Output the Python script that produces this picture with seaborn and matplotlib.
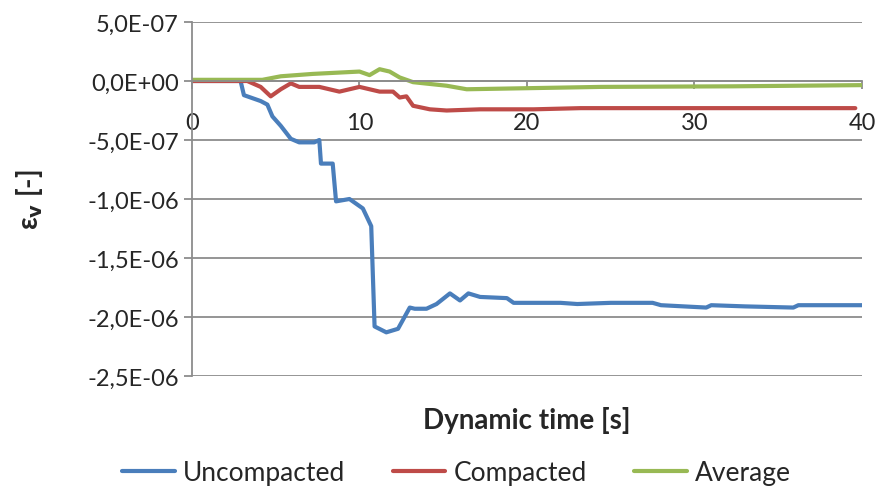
import numpy as np
import pandas as pd
import matplotlib
matplotlib.use("Agg")
import matplotlib.pyplot as plt
import matplotlib.ticker as mticker
import seaborn as sns

# Datos (tiempo en s, deformacion en 1e-7)
t_unc = [0, 2.9, 3.1, 4.1, 4.5, 4.8, 5.3, 5.9, 6.4, 7.3, 7.6, 7.7, 8.4, 8.6, 9.4,
         10.2, 10.7, 10.9, 11.6, 12.3, 13.0, 13.3, 14.0, 14.6, 15.4, 16.0, 16.5,
         17.2, 18.8, 19.2, 22, 23, 25, 27.5, 28, 30.7, 31, 33, 35.9, 36.2, 40]
v_unc = [0, 0, -1.2, -1.7, -2.0, -3.0, -3.8, -4.9, -5.2, -5.2, -5.0, -7.0, -7.0,
         -10.2, -10.0, -10.8, -12.3, -20.8, -21.3, -21.0, -19.2, -19.3, -19.3,
         -18.9, -18.0, -18.6, -18.0, -18.3, -18.4, -18.8, -18.8, -18.9, -18.8,
         -18.8, -19.0, -19.2, -19.0, -19.1, -19.2, -19.0, -19.0]

t_comp = [0, 3.3, 4.1, 4.7, 5.3, 5.9, 6.4, 7.6, 8.8, 10, 11.2, 12, 12.4, 12.8,
          13.2, 14.2, 15.2, 17.2, 20.4, 23.2, 39.6]
v_comp = [0, 0, -0.5, -1.3, -0.7, -0.2, -0.5, -0.5, -0.9, -0.5, -0.9, -0.9, -1.4,
          -1.3, -2.1, -2.4, -2.5, -2.4, -2.4, -2.3, -2.3]

t_avg = [0, 4.2, 5.3, 7.2, 10, 10.6, 11.2, 11.8, 12.4, 13.2, 15.2, 16.4, 20.4,
         24.4, 32.3, 40]
v_avg = [0.1, 0.1, 0.4, 0.6, 0.8, 0.5, 1.0, 0.8, 0.3, -0.1, -0.4, -0.7, -0.6,
         -0.5, -0.45, -0.35]

series = ["Uncompacted", "Compacted", "Average"]
colores = ["#4A7EBB", "#BE4B48", "#98B954"]
yticks = [-2.5e-6, -2.0e-6, -1.5e-6, -1.0e-6, -5.0e-7, 0.0, 5.0e-7]
xticks = [0, 10, 20, 30, 40]

df = pd.concat([
    pd.DataFrame({"t": t_unc, "e": np.array(v_unc) * 1e-7, "serie": series[0]}),
    pd.DataFrame({"t": t_comp, "e": np.array(v_comp) * 1e-7, "serie": series[1]}),
    pd.DataFrame({"t": t_avg, "e": np.array(v_avg) * 1e-7, "serie": series[2]}),
])

sns.set_style("white")
plt.rcParams["font.family"] = ["Lato", "DejaVu Sans"]

fig = plt.figure(figsize=(8.78, 5.02), dpi=100)
ax = fig.add_axes([192 / 878, 1 - 377 / 502, 670 / 878, 354 / 502])

sns.lineplot(data=df, x="t", y="e", hue="serie", hue_order=series,
             palette=colores, linewidth=3, ax=ax, sort=False, estimator=None)

ax.set_xlim(0, 40)
ax.set_ylim(-2.5e-6, 5e-7)
ax.set_xticks(xticks)
ax.set_yticks(yticks)
ax.yaxis.set_major_formatter(
    mticker.FuncFormatter(lambda v, p: f"{v:.1E}".replace(".", ",")))
ax.grid(axis="y", color="#8c8c8c", linewidth=1.3)
ax.set_axisbelow(True)

for s in ["top", "right"]:
    ax.spines[s].set_visible(False)
ax.spines["bottom"].set_position(("data", 0))
for s in ["bottom", "left"]:
    ax.spines[s].set_color("#8c8c8c")
    ax.spines[s].set_linewidth(1.3)

ax.tick_params(axis="both", direction="out", length=6, color="#8c8c8c",
               labelsize=17, width=1.3, left=True, bottom=True)
ax.tick_params(axis="x", pad=16)

ax.set_xlabel("Dynamic time [s]", fontsize=20, fontweight="bold")
ax.xaxis.set_label_coords(0.5, -0.085)
ax.set_ylabel(r"ε$_{\mathbf{v}}$ [-]", fontsize=20, fontweight="bold")
ax.yaxis.set_label_coords(-0.219, 0.5)

ax.legend_.remove()
handles, labels = ax.get_legend_handles_labels()
fig.legend(handles, labels, loc="lower center", bbox_to_anchor=(0.52, -0.015),
           ncol=3, frameon=False, fontsize=19, handlelength=2.0,
           columnspacing=1.8, handletextpad=0.3)

fig.savefig("out.png", dpi=100)
